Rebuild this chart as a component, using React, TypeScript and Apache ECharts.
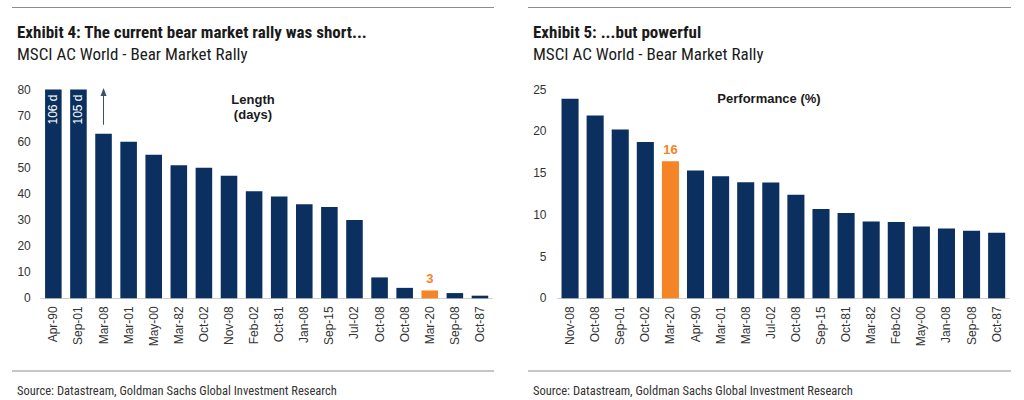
import React, { useEffect, useRef } from "react";
import * as echarts from "echarts";

const lengthCategories = ["Apr-90", "Sep-01", "Mar-08", "Mar-01", "May-00", "Mar-82", "Oct-02", "Nov-08", "Feb-02", "Oct-81", "Jan-08", "Sep-15", "Jul-02", "Oct-08", "Oct-08", "Mar-20", "Sep-08", "Oct-87"];
const lengthDays = [106, 105, 63, 60, 55, 51, 50, 47, 41, 39, 36, 35, 30, 8, 4, 3, 2, 1];

const perfCategories = ["Nov-08", "Oct-08", "Sep-01", "Oct-02", "Mar-20", "Apr-90", "Mar-01", "Mar-08", "Jul-02", "Oct-08", "Sep-15", "Oct-81", "Mar-82", "Feb-02", "May-00", "Jan-08", "Sep-08", "Oct-87"];
const perfValues = [23.9, 21.9, 20.2, 18.7, 16.4, 15.3, 14.6, 13.9, 13.85, 12.4, 10.7, 10.2, 9.2, 9.15, 8.6, 8.35, 8.1, 7.85];

const lengthTicks = { min: 0, max: 80, interval: 10 };
const perfTicks = { min: 0, max: 25, interval: 5 };

const highlightCategory = "Mar-20";
const arrowCategoryIndex = 2;
const arrowRange = [66.5, 79];

const NAVY = "#0b2f5f";
const ORANGE = "#f58426";
const NARROW = "'Liberation Sans Narrow', 'Arial Narrow', 'Roboto Condensed', 'Liberation Sans', Arial, sans-serif";
const SANS = "'Liberation Sans', Arial, Helvetica, sans-serif";

export default function App() {
  const ref = useRef<HTMLDivElement>(null);

  useEffect(() => {
    if (!ref.current) return;
    const chart = echarts.init(ref.current, null, { renderer: "svg" });

    const lengthData = lengthDays.map((v, i) => {
      const isHi = lengthCategories[i] === highlightCategory;
      const capped = v > lengthTicks.max;
      const item: any = { value: Math.min(v, lengthTicks.max) };
      if (isHi) {
        item.itemStyle = { color: ORANGE };
        item.label = {
          show: true, position: "top", distance: 5, formatter: String(v),
          color: ORANGE, fontWeight: "bold", fontSize: 13, fontFamily: SANS,
        };
      } else if (capped) {
        item.label = {
          show: true, position: "insideTop", distance: 5, rotate: 90,
          align: "right", verticalAlign: "middle", formatter: `${v} d`,
          color: "#ffffff", fontSize: 12, fontFamily: SANS,
        };
      }
      return item;
    });

    const perfData = perfValues.map((v, i) => {
      const isHi = perfCategories[i] === highlightCategory;
      const item: any = { value: v };
      if (isHi) {
        item.itemStyle = { color: ORANGE };
        item.label = {
          show: true, position: "top", distance: 5, formatter: String(Math.round(v)),
          color: ORANGE, fontWeight: "bold", fontSize: 13, fontFamily: SANS,
        };
      }
      return item;
    });

    const xAxisCommon = {
      type: "category" as const,
      axisLine: { show: true, lineStyle: { color: "#cfcfcf", width: 1 } },
      axisTick: { show: false },
      axisLabel: { rotate: 90, interval: 0, fontSize: 12, color: "#333", fontFamily: SANS, margin: 8 },
      splitLine: { show: false },
    };
    const yAxisCommon = {
      type: "value" as const,
      axisLine: { show: false },
      axisTick: { show: false },
      splitLine: { show: false },
    };

    const option: any = {
      animation: false,
      backgroundColor: "#ffffff",
      title: [
        { text: "Exhibit 4: The current bear market rally was short...", left: 12, top: 18,
          textStyle: { fontFamily: NARROW, fontSize: 17, fontWeight: "bold", color: "#1a1a1a" } },
        { text: "MSCI AC World - Bear Market Rally", left: 12, top: 40,
          textStyle: { fontFamily: NARROW, fontSize: 17, fontWeight: "normal", color: "#1a1a1a" } },
        { text: "Source: Datastream, Goldman Sachs Global Investment Research", left: 12, top: 379,
          textStyle: { fontFamily: NARROW, fontSize: 12.5, fontWeight: "normal", color: "#333" } },
        { text: "Exhibit 5: ...but powerful", left: 528, top: 18,
          textStyle: { fontFamily: NARROW, fontSize: 17, fontWeight: "bold", color: "#1a1a1a" } },
        { text: "MSCI AC World - Bear Market Rally", left: 528, top: 40,
          textStyle: { fontFamily: NARROW, fontSize: 17, fontWeight: "normal", color: "#1a1a1a" } },
        { text: "Source: Datastream, Goldman Sachs Global Investment Research", left: 528, top: 379,
          textStyle: { fontFamily: NARROW, fontSize: 12.5, fontWeight: "normal", color: "#333" } },
      ],
      grid: [
        { left: 40.8, right: 531.5, top: 89.5, bottom: 101.7 },
        { left: 557.5, right: 14.8, top: 89.5, bottom: 101.7 },
      ],
      xAxis: [
        { ...xAxisCommon, gridIndex: 0, data: lengthCategories },
        { ...xAxisCommon, gridIndex: 1, data: perfCategories },
      ],
      yAxis: [
        { ...yAxisCommon, gridIndex: 0, ...lengthTicks,
          axisLabel: { fontSize: 12, color: "#333", fontFamily: SANS, margin: 10 } },
        { ...yAxisCommon, gridIndex: 1, ...perfTicks,
          axisLabel: { fontSize: 12, color: "#333", fontFamily: SANS, margin: 11 } },
      ],
      series: [
        {
          type: "bar", xAxisIndex: 0, yAxisIndex: 0, data: lengthData,
          barCategoryGap: "34%", itemStyle: { color: NAVY },
          markLine: {
            silent: true, animation: false,
            symbol: ["none", "triangle"], symbolSize: [6, 8],
            lineStyle: { color: "#3d4f6b", width: 1, type: "solid" },
            label: { show: false },
            data: [[{ coord: [arrowCategoryIndex, arrowRange[0]] }, { coord: [arrowCategoryIndex, arrowRange[1]] }]],
          },
        },
        {
          type: "bar", xAxisIndex: 1, yAxisIndex: 1, data: perfData,
          barCategoryGap: "32%", itemStyle: { color: NAVY },
        },
      ],
      graphic: [
        { type: "line", shape: { x1: 12, y1: 7.5, x2: 494, y2: 7.5 }, style: { stroke: "#8c8c8c", lineWidth: 1 } },
        { type: "line", shape: { x1: 528, y1: 7.5, x2: 1011, y2: 7.5 }, style: { stroke: "#8c8c8c", lineWidth: 1 } },
        { type: "line", shape: { x1: 12, y1: 371, x2: 494, y2: 371 }, style: { stroke: "#8c8c8c", lineWidth: 1 } },
        { type: "line", shape: { x1: 528, y1: 371, x2: 1011, y2: 371 }, style: { stroke: "#8c8c8c", lineWidth: 1 } },
        { type: "text", x: 253, y: 92, style: { text: "Length\n(days)", textAlign: "center", fontSize: 13, lineHeight: 15, fontWeight: "bold", fontFamily: SANS, fill: "#1a1a1a" } },
        { type: "text", x: 769, y: 92, style: { text: "Performance (%)", textAlign: "center", fontSize: 13, fontWeight: "bold", fontFamily: SANS, fill: "#1a1a1a" } },
      ],
    };

    chart.setOption(option);
    return () => chart.dispose();
  }, []);

  return <div ref={ref} style={{ position: "fixed", left: 0, top: 0, width: 1024, height: 400 }} />;
}
